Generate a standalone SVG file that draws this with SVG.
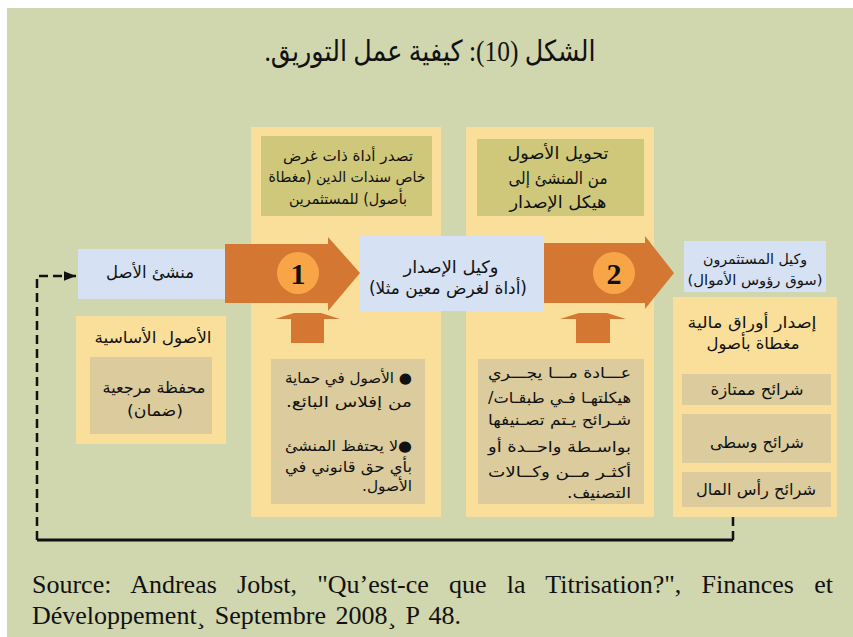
<svg xmlns="http://www.w3.org/2000/svg" width="853" height="637" viewBox="0 0 853 637">
<defs>
<style>
.bg{fill:#D0D6AE}
.panel{fill:#F9DF99}
.blue{fill:#D6E1F3}
.olive{fill:#CFC87A}
.tan{fill:#DBCB9D}
.arr{fill:#D47733}
.circ{fill:#F8A548}
.ar{font-family:"DejaVu Sans","Noto Sans",sans-serif;fill:#111;direction:rtl;text-anchor:middle}
.ars{font-family:"DejaVu Sans","Noto Sans",sans-serif;fill:#111;direction:rtl;text-anchor:start}
.num{font-family:"Liberation Serif",serif;font-weight:bold;font-size:30px;fill:#111;text-anchor:middle}
.src{font-family:"Liberation Serif",serif;font-size:26px;fill:#111}
.dash{fill:none;stroke:#111;stroke-width:2.5;stroke-dasharray:9 5}
</style>
<marker id="ah" viewBox="0 0 10 10" refX="10" refY="5" markerWidth="5" markerHeight="5" orient="auto" markerUnits="strokeWidth">
<path d="M0,1 L10,5 L0,9 Z" fill="#111"/>
</marker>
</defs>
<rect x="7" y="8" width="846" height="629" class="bg"/>
<text x="430" y="61" class="ar" style="font-family:'Liberation Serif','DejaVu Sans',serif;font-size:29px" textLength="331" lengthAdjust="spacingAndGlyphs">الشكل (10): كيفية عمل التوريق.</text>

<g id="panel1">
<rect x="251" y="127" width="190" height="390" class="panel"/>
<rect x="261" y="136" width="171" height="80" class="olive"/>
<text x="348" y="161" class="ar" font-size="15" textLength="130" lengthAdjust="spacingAndGlyphs">تصدر أداة ذات غرض</text>
<text x="347" y="182" class="ar" font-size="15" textLength="157" lengthAdjust="spacingAndGlyphs">خاص سندات الدين (مغطاة</text>
<text x="348" y="204" class="ar" font-size="15" textLength="118" lengthAdjust="spacingAndGlyphs">بأصول) للمستثمرين</text>
<rect x="271" y="359" width="154" height="145" class="tan"/>
<text x="412" y="383" class="ars" font-size="15" textLength="127" lengthAdjust="spacingAndGlyphs">● الأصول في حماية</text>
<text x="412" y="407" class="ars" font-size="15" textLength="126" lengthAdjust="spacingAndGlyphs">من إفلاس البائع.</text>
<text x="412" y="451" class="ars" font-size="15" textLength="127" lengthAdjust="spacingAndGlyphs">●لا يحتفظ المنشئ</text>
<text x="412" y="472" class="ars" font-size="15" textLength="127" lengthAdjust="spacingAndGlyphs">بأي حق قانوني في</text>
<text x="412" y="491" class="ars" font-size="15" textLength="50" lengthAdjust="spacingAndGlyphs">الأصول.</text>
</g>

<g id="panel2">
<rect x="466" y="127" width="188" height="390" class="panel"/>
<rect x="477" y="139" width="167" height="77" class="olive"/>
<text x="558" y="159" class="ar" font-size="17" textLength="101" lengthAdjust="spacingAndGlyphs">تحويل الأصول</text>
<text x="558" y="184" class="ar" font-size="17" textLength="99" lengthAdjust="spacingAndGlyphs">من المنشئ إلى</text>
<text x="558" y="208" class="ar" font-size="17" textLength="97" lengthAdjust="spacingAndGlyphs">هيكل الإصدار</text>
<rect x="478" y="359" width="166" height="145" class="tan"/>
<text x="631" y="378" class="ars" font-size="15" textLength="143" lengthAdjust="spacingAndGlyphs">عـــادة مـــا يجـــري</text>
<text x="631" y="403" class="ars" font-size="15" textLength="143" lengthAdjust="spacingAndGlyphs">هيكلتهـا فـي طبقـات/</text>
<text x="631" y="425" class="ars" font-size="15" textLength="143" lengthAdjust="spacingAndGlyphs">شـرائح يـتم تصـنيفها</text>
<text x="631" y="452" class="ars" font-size="15" textLength="143" lengthAdjust="spacingAndGlyphs">بواسـطة واحــدة أو</text>
<text x="631" y="477" class="ars" font-size="15" textLength="143" lengthAdjust="spacingAndGlyphs">أكثـر مــن وكــالات</text>
<text x="631" y="498" class="ars" font-size="15" textLength="64" lengthAdjust="spacingAndGlyphs">التصنيف.</text>
</g>

<g id="connectors">
<polygon class="arr" points="225,244 328,244 328,237 360,273 328,311 328,303 225,303"/>
<polygon class="arr" points="544,243 645,243 645,236 674,273 645,309 645,303 544,303"/>
<polygon class="arr" points="291,343 291,319 275,319 294,313 321,313 340,319 324,319 324,343"/>
<polygon class="arr" points="576,343 576,319 560,319 579,313 607,313 626,319 610,319 610,343"/>
<path class="dash" d="M733,517 L733,541"/>
<path d="M733,540 L37,540" fill="none" stroke="#111" stroke-width="3"/>
<path class="dash" d="M37,540 L37,276 L76,276" marker-end="url(#ah)"/>
</g>

<g id="step1">
<circle cx="298" cy="273" r="21" class="circ"/>
<text x="298" y="284" class="num">1</text>
</g>
<g id="step2">
<circle cx="614" cy="273" r="21" class="circ"/>
<text x="614" y="284" class="num">2</text>
</g>

<g id="originator">
<rect x="78" y="249" width="147" height="50" class="blue"/>
<text x="150" y="278" class="ar" font-size="17" textLength="88" lengthAdjust="spacingAndGlyphs">منشئ الأصل</text>
</g>

<g id="underlying">
<rect x="76" y="316" width="150" height="128" class="panel"/>
<text x="153" y="343" class="ar" font-size="16" textLength="117" lengthAdjust="spacingAndGlyphs">الأصول الأساسية</text>
<rect x="90" y="357" width="122" height="77" class="tan"/>
<text x="154" y="393" class="ar" font-size="16" textLength="103" lengthAdjust="spacingAndGlyphs">محفظة مرجعية</text>
<text x="155" y="416" class="ar" font-size="16" textLength="56" lengthAdjust="spacingAndGlyphs">(ضمان)</text>
</g>

<g id="issuer">
<rect x="360" y="236" width="184" height="75" class="blue"/>
<text x="451" y="273" class="ar" font-size="17" textLength="95" lengthAdjust="spacingAndGlyphs">وكيل الإصدار</text>
<text x="448" y="294" class="ar" font-size="17" textLength="158" lengthAdjust="spacingAndGlyphs">(أداة لغرض معين مثلا)</text>
</g>

<g id="investors">
<rect x="684" y="241" width="142" height="51" class="blue"/>
<text x="755" y="264" class="ar" font-size="14" textLength="104" lengthAdjust="spacingAndGlyphs">وكيل المستثمرون</text>
<text x="755" y="285" class="ar" font-size="14" textLength="135" lengthAdjust="spacingAndGlyphs">(سوق رؤوس الأموال)</text>
</g>

<g id="securities">
<rect x="673" y="297" width="164" height="220" class="panel"/>
<text x="752" y="328" class="ar" font-size="16" textLength="129" lengthAdjust="spacingAndGlyphs">إصدار أوراق مالية</text>
<text x="753" y="349" class="ar" font-size="16" textLength="93" lengthAdjust="spacingAndGlyphs">مغطاة بأصول</text>
<rect x="682" y="374" width="149" height="31" class="tan"/>
<text x="757" y="395" class="ar" font-size="16" textLength="93" lengthAdjust="spacingAndGlyphs">شرائح ممتازة</text>
<rect x="682" y="414" width="149" height="49" class="tan"/>
<text x="757" y="448" class="ar" font-size="16" textLength="94" lengthAdjust="spacingAndGlyphs">شرائح وسطى</text>
<rect x="682" y="472" width="149" height="35" class="tan"/>
<text x="756" y="495" class="ar" font-size="16" textLength="120" lengthAdjust="spacingAndGlyphs">شرائح رأس المال</text>
</g>

<text x="32" y="593" class="src" word-spacing="13.7">Source: Andreas Jobst, "Qu’est-ce que la Titrisation?", Finances et</text>
<text x="32" y="624" class="src" word-spacing="3">Développement¸ Septembre 2008¸ P 48.</text>
</svg>
